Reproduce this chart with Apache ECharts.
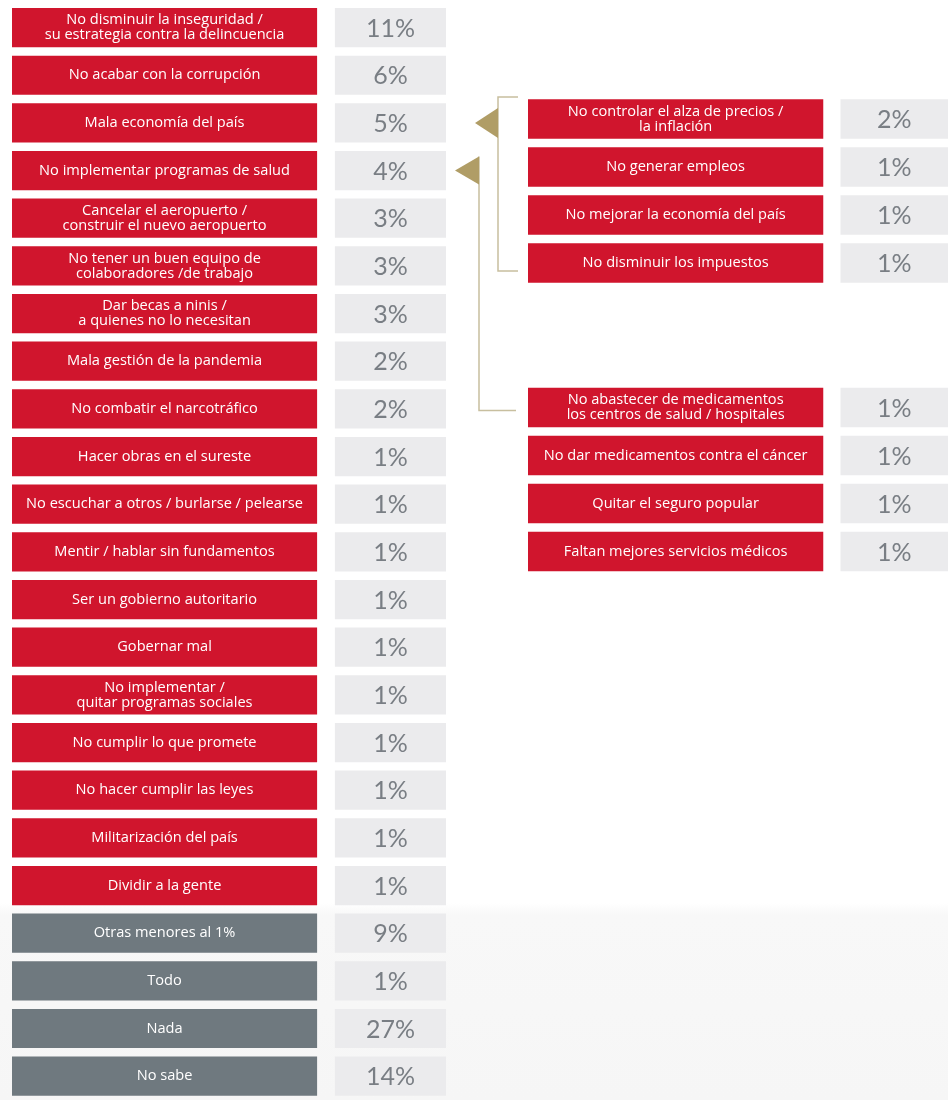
<!DOCTYPE html>
<html>
<head>
<meta charset="utf-8">
<title>Errores del gobierno</title>
<script src="https://cdn.jsdelivr.net/npm/echarts@6/dist/echarts.min.js"></script>
<style>
  html, body { margin: 0; padding: 0; }
  body { background: linear-gradient(to bottom, #ffffff 0, #ffffff 903px, #f8f8f8 915px, #f6f6f6 1100px); }
  #chart { width: 948px; height: 1100px; }
</style>
</head>
<body>
<div id="chart"></div>
<script>
// columna principal
var mainLabels = [
  "No disminuir la inseguridad /\nsu estrategia contra la delincuencia",
  "No acabar con la corrupción",
  "Mala economía del país",
  "No implementar programas de salud",
  "Cancelar el aeropuerto /\nconstruir el nuevo aeropuerto",
  "No tener un buen equipo de\ncolaboradores /de trabajo",
  "Dar becas a ninis /\na quienes no lo necesitan",
  "Mala gestión de la pandemia",
  "No combatir el narcotráfico",
  "Hacer obras en el sureste",
  "No escuchar a otros / burlarse / pelearse",
  "Mentir / hablar sin fundamentos",
  "Ser un gobierno autoritario",
  "Gobernar mal",
  "No implementar /\nquitar programas sociales",
  "No cumplir lo que promete",
  "No hacer cumplir las leyes",
  "Militarización del país",
  "Dividir a la gente",
  "Otras menores al 1%",
  "Todo",
  "Nada",
  "No sabe"
];
var mainValues = [11, 6, 5, 4, 3, 3, 3, 2, 2, 1, 1, 1, 1, 1, 1, 1, 1, 1, 1, 9, 1, 27, 14];
var otherLabels = ["Otras menores al 1%", "Todo", "Nada", "No sabe"];

// desglose economía
var economyLabels = [
  "No controlar el alza de precios /\nla inflación",
  "No generar empleos",
  "No mejorar la economía del país",
  "No disminuir los impuestos"
];
var economyValues = [2, 1, 1, 1];

// desglose salud
var healthLabels = [
  "No abastecer de medicamentos\nlos centros de salud / hospitales",
  "No dar medicamentos contra el cáncer",
  "Quitar el seguro popular",
  "Faltan mejores servicios médicos"
];
var healthValues = [1, 1, 1, 1];

var RED = "#d0152d";
var GRAY = "#6f797f";
var PCT_BG = "#ebebed";
var PCT_TXT = "#797e84";
var GOLD = "#b09d66";
var GOLD_LINE = "#c8bf9f";

function renderRow(params, api) {
  var cat = api.value(0);
  var label = params.seriesIndex === 0 ? mainLabels[cat]
            : params.seriesIndex === 1 ? economyLabels[cat] : healthLabels[cat];
  var pct = api.value(1);
  var left = api.coord([0, cat]);
  var right = api.coord([1, cat]);
  var band = api.size([0, 1])[1];
  var h = band * 0.823;
  var w = right[0] - left[0];
  var labelW = w * 0.703;
  var pctX = left[0] + w * 0.744;
  var y = left[1] - h / 2;
  var fill = otherLabels.indexOf(label) >= 0 ? GRAY : RED;
  return {
    type: "group",
    children: [
      { type: "rect", shape: { x: left[0], y: y, width: labelW, height: h }, style: { fill: fill } },
      { type: "text", style: {
          text: label, x: left[0] + labelW / 2, y: left[1],
          align: "center", verticalAlign: "middle",
          fill: "#ffffff", fontSize: 14.6, lineHeight: 15,
          fontFamily: "'Open Sans', 'Noto Sans', sans-serif"
        } },
      { type: "rect", shape: { x: pctX, y: y, width: right[0] - pctX, height: h }, style: { fill: PCT_BG } },
      { type: "text", style: {
          text: pct + "%", x: (pctX + right[0]) / 2, y: left[1] + 1,
          align: "center", verticalAlign: "middle",
          fill: PCT_TXT, fontSize: 25,
          fontFamily: "Lato, 'Noto Sans', sans-serif"
        } }
    ]
  };
}

function axesFor(labels, idx) {
  return {
    x: { type: "value", gridIndex: idx, min: 0, max: 1, show: false },
    y: { type: "category", gridIndex: idx, data: labels, inverse: true, show: false }
  };
}

var a0 = axesFor(mainLabels, 0), a1 = axesFor(economyLabels, 1), a2 = axesFor(healthLabels, 2);

var chart = echarts.init(document.getElementById("chart"));
chart.setOption({
  backgroundColor: "transparent",
  animation: false,
  grid: [
    { left: 12, top: 3.75, width: 434, height: 23 * 48 },
    { left: 528, top: 95, width: 435, height: 4 * 48 },
    { left: 528, top: 383.5, width: 435, height: 4 * 48 }
  ],
  xAxis: [a0.x, a1.x, a2.x],
  yAxis: [a0.y, a1.y, a2.y],
  series: [
    { type: "custom", xAxisIndex: 0, yAxisIndex: 0, renderItem: renderRow, encode: { y: 0 },
      data: mainLabels.map(function (l, i) { return [l, mainValues[i]]; }) },
    { type: "custom", xAxisIndex: 1, yAxisIndex: 1, renderItem: renderRow, encode: { y: 0 },
      data: economyLabels.map(function (l, i) { return [l, economyValues[i]]; }) },
    { type: "custom", xAxisIndex: 2, yAxisIndex: 2, renderItem: renderRow, encode: { y: 0 },
      data: healthLabels.map(function (l, i) { return [l, healthValues[i]]; }) }
  ]
});

// llaves y flechas que unen la columna principal con los desgloses
var mainRight = chart.convertToPixel({ gridIndex: 0 }, [1, 0])[0];
var subLeft = chart.convertToPixel({ gridIndex: 1 }, [0, 0])[0];
var ecoRowY = chart.convertToPixel({ gridIndex: 0 }, [0, 2])[1];
var saludRowY = chart.convertToPixel({ gridIndex: 0 }, [0, 3])[1];
var eTop = chart.convertToPixel({ gridIndex: 1 }, [0, 0])[1] - 22;
var eBottom = chart.convertToPixel({ gridIndex: 1 }, [0, 3])[1] + 8;
var hRow = chart.convertToPixel({ gridIndex: 2 }, [0, 0])[1] + 3;

var b1x = mainRight + 52, b2x = mainRight + 33;
chart.setOption({
  graphic: [
    { type: "polyline", shape: { points: [[subLeft - 10, eTop], [b1x, eTop], [b1x, eBottom], [subLeft - 10, eBottom]] },
      style: { stroke: GOLD_LINE, lineWidth: 1.5, fill: null } },
    { type: "polyline", shape: { points: [[b2x, saludRowY - 14], [b2x, hRow], [subLeft - 12, hRow]] },
      style: { stroke: GOLD_LINE, lineWidth: 1.5, fill: null } },
    { type: "polygon", shape: { points: [[mainRight + 29, ecoRowY], [b1x, ecoRowY - 15], [b1x, ecoRowY + 15]] },
      style: { fill: GOLD } },
    { type: "polygon", shape: { points: [[mainRight + 9, saludRowY], [b2x, saludRowY - 14], [b2x, saludRowY + 14]] },
      style: { fill: GOLD } }
  ]
});

window.addEventListener("resize", function () {
  chart.resize();
});
</script>
</body>
</html>
